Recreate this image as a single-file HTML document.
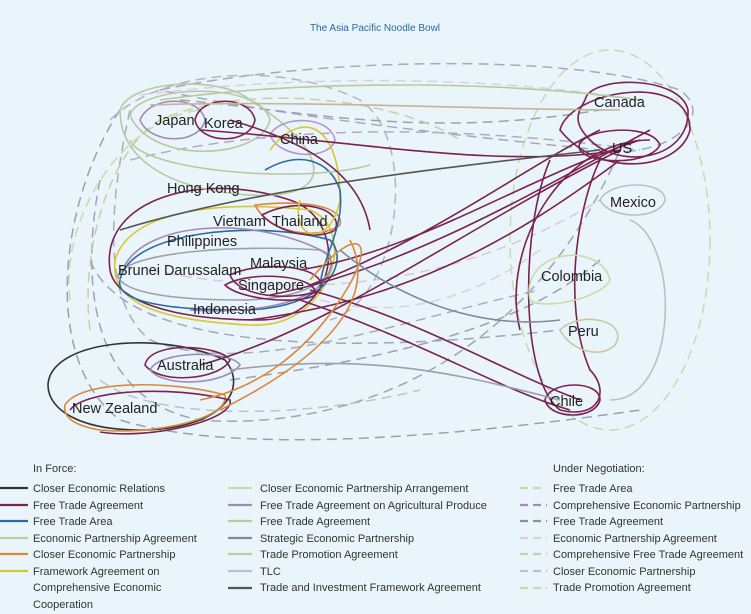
<!DOCTYPE html>
<html><head><meta charset="utf-8"><style>
body{margin:0;background:#eaf4fb;}
svg{display:block;font-family:"Liberation Sans",sans-serif;}
.lg{font-size:11px;fill:#333;}
.nd{font-size:14.5px;fill:#222;}
</style></head><body>
<svg width="751" height="614" viewBox="0 0 751 614">
<rect width="751" height="614" fill="#eaf4fb"/>
<text x="375" y="31" text-anchor="middle" font-size="10" fill="#2a6aa0">The Asia Pacific Noodle Bowl</text>
<g fill="none" stroke-width="1.6">
<g stroke-dasharray="10,6" stroke-width="1.5">
<ellipse cx="610" cy="240" rx="100" ry="190" stroke="#c8dba8"/>
<path d="M120 110 C60 200,40 360,120 420 C250 460,500 430,640 410" stroke="#9aa0b0"/>
<path d="M160 90 C300 60,560 50,680 90 C720 120,660 160,600 150 C400 130,250 110,160 90" stroke="#a8a8b8"/>
<path d="M100 180 C80 280,90 400,200 420 C330 430,520 380,620 150" stroke="#9fa4b3"/>
<path d="M140 95 C260 80,450 70,640 100" stroke="#e0cde0"/>
<path d="M130 160 C250 130,420 120,640 150" stroke="#b4a8c6"/>
<path d="M90 260 C120 340,300 360,560 330" stroke="#a0a6b4"/>
<path d="M150 270 C300 300,450 290,600 200" stroke="#d9c6df"/>
<path d="M110 120 C160 70,280 60,360 100 C420 140,400 300,330 320" stroke="#b0b6c2"/>
<path d="M70 300 C60 220,120 120,200 110" stroke="#c8dba8"/>
<path d="M230 380 C380 360,520 330,600 260" stroke="#9aa0b0"/>
<path d="M130 110 C110 200,100 300,150 340 C250 380,400 320,540 290" stroke="#a8aebb"/>
<path d="M180 100 C300 110,420 140,600 110" stroke="#9aa0b0"/>
<path d="M90 330 C80 250,110 150,160 120 C250 80,400 100,460 140" stroke="#c8d0a0"/>
<path d="M320 300 C400 320,470 300,540 250" stroke="#e0cde0"/>
<path d="M100 380 C150 420,300 420,420 390" stroke="#b8c4cc"/>
</g>
<path d="M110 270 C100 200,200 170,290 200 C350 220,340 320,260 320 C170 320,115 300,110 270Z" stroke="#7a2250"/>
<path d="M115 260 C130 210,220 200,310 210 C360 230,330 330,250 325 C150 320,110 300,115 260Z" stroke="#d6c830"/>
<path d="M120 280 C130 230,260 220,330 240 C350 260,330 310,240 310 C160 310,115 300,120 280Z" stroke="#2a6aa0"/>
<path d="M118 275 C130 250,250 245,320 250 C350 265,320 300,240 300 C160 300,120 290,118 275Z" stroke="#9aa0b0"/>
<path d="M125 265 C150 220,260 215,330 255 C340 300,260 315,190 310" stroke="#9e8ab0"/>
<path d="M230 275 C260 260,330 265,320 290 C300 300,240 300,230 275Z" stroke="#7a2250"/>
<path d="M225 285 C250 270,320 275,315 295 C300 305,240 300,225 285Z" stroke="#7a2250"/>
<path d="M255 205 C300 200,345 205,340 225 C320 240,270 235,255 205Z" stroke="#d88a3a"/>
<path d="M262 215 C300 195,345 210,335 230 C320 240,280 235,262 215Z" stroke="#7a2250"/>
<path d="M140 120 C150 95,200 95,205 120 C200 145,150 145,140 120Z" stroke="#9e8ab0"/>
<path d="M195 120 C200 95,250 95,255 120 C250 145,200 145,195 120Z" stroke="#7a2250"/>
<path d="M130 115 C140 85,260 80,270 120 C260 160,150 165,130 115Z" stroke="#b8c8a0"/>
<path d="M120 110 C130 80,220 75,250 100 C330 150,340 200,250 195 C170 190,120 160,120 110Z" stroke="#b8c8a0"/>
<path d="M270 135 C280 115,330 115,335 140 C330 160,280 160,270 135Z" stroke="#b396c8"/>
<path d="M270 150 C300 110,340 120,340 200 C330 250,290 240,300 200" stroke="#d6c830"/>
<path d="M265 170 C300 150,330 160,340 190 C345 230,320 260,320 290" stroke="#2a6aa0"/>
<path d="M48 385 C50 340,160 330,225 360 C250 390,220 430,140 430 C80 430,48 410,48 385Z" stroke="#333"/>
<path d="M65 405 C80 380,170 380,225 395 C230 420,150 435,100 430 C70 425,63 415,65 405Z" stroke="#d88a3a"/>
<path d="M70 410 C85 390,170 385,230 400 C235 420,150 440,100 432" stroke="#7a2250"/>
<path d="M145 365 C150 340,220 345,230 360 C220 380,160 385,145 365Z" stroke="#7a2250"/>
<path d="M150 370 C160 350,230 350,240 365 C225 385,165 388,150 370Z" stroke="#9e8ab0"/>
<path d="M600 200 C610 180,665 180,665 200 C660 220,610 220,600 200Z" stroke="#b8c0c8"/>
<path d="M585 100 C590 75,680 75,688 110 C690 160,620 170,590 140 C570 120,580 110,585 100Z" stroke="#7a2250"/>
<path d="M560 130 C570 90,690 70,690 130 C680 170,600 180,560 130Z" stroke="#7a2250"/>
<path d="M580 150 C570 130,650 120,660 145 C650 165,590 165,580 150Z" stroke="#7a2250"/>
<path d="M550 160 C520 230,520 380,560 410 C600 420,610 390,590 370 C560 300,580 200,600 160" stroke="#7a2250"/>
<path d="M520 330 C500 250,560 140,650 140" stroke="#7a2250"/>
<path d="M530 300 C520 250,600 240,610 280 C600 300,540 310,530 300" stroke="#c8dba8"/>
<path d="M560 330 C580 310,630 320,615 345 C600 360,570 350,560 330" stroke="#c8c8a0"/>
<path d="M545 400 C550 380,600 380,600 400 C595 420,550 420,545 400Z" stroke="#7a2250"/>
<path d="M630 220 C680 240,680 400,610 400" stroke="#b8c0c8"/>
<path d="M200 130 C350 140,500 170,620 150" stroke="#7a2250"/>
<path d="M300 270 C420 250,520 180,640 140" stroke="#7a2250"/>
<path d="M310 285 C430 240,520 170,600 130" stroke="#7a2250"/>
<path d="M250 320 C400 300,500 250,620 160" stroke="#7a2250"/>
<path d="M200 365 C330 330,460 230,620 150" stroke="#7a2250"/>
<path d="M270 295 C400 270,520 200,650 130" stroke="#7a2250"/>
<path d="M160 100 C300 80,500 80,640 100" stroke="#b8c8a0"/>
<path d="M150 105 C300 100,500 110,620 110" stroke="#c4b49a"/>
<path d="M120 230 C250 190,420 170,600 150" stroke="#555"/>
<path d="M310 290 C420 320,500 370,580 400" stroke="#7a2250"/>
<path d="M300 300 C420 340,500 390,570 410" stroke="#7a2250"/>
<path d="M230 370 C380 350,480 380,560 400" stroke="#9aa0b0"/>
<path d="M130 140 C140 170,300 185,370 165" stroke="#b8c8a0"/>
<path d="M310 280 C360 220,380 240,340 300 C300 360,250 390,200 400" stroke="#d88a3a"/>
<path d="M350 240 C370 280,360 340,220 410" stroke="#d88a3a"/>
<path d="M340 250 C400 300,480 330,560 320" stroke="#7a8c9c"/>
<path d="M230 120 C300 140,360 170,370 230" stroke="#7a2250"/>
</g>
<g class="nd">
<text x="155" y="125">Japan</text><text x="204" y="128">Korea</text><text x="280" y="144">China</text>
<text x="594" y="107">Canada</text><text x="612" y="153">US</text><text x="610" y="207">Mexico</text>
<text x="167" y="193">Hong Kong</text><text x="213" y="226">Vietnam</text><text x="272" y="226">Thailand</text>
<text x="167" y="246">Philippines</text><text x="118" y="275">Brunei Darussalam</text><text x="250" y="268">Malaysia</text>
<text x="238" y="290">Singapore</text><text x="193" y="314">Indonesia</text><text x="541" y="281">Colombia</text>
<text x="568" y="336">Peru</text><text x="550" y="406">Chile</text><text x="157" y="370">Australia</text><text x="72" y="413">New Zealand</text>
</g>
<g class="lg">
<text x="33" y="472">In Force:</text><text x="553" y="472">Under Negotiation:</text>
<text x="33" y="492">Closer Economic Relations</text><text x="33" y="509">Free Trade Agreement</text><text x="33" y="525">Free Trade Area</text><text x="33" y="542">Economic Partnership Agreement</text><text x="33" y="558">Closer Economic Partnership</text><text x="33" y="575">Framework Agreement on</text><text x="33" y="591">Comprehensive Economic</text><text x="33" y="608">Cooperation</text>
<text x="260" y="492">Closer Economic Partnership Arrangement</text><text x="260" y="509">Free Trade Agreement on Agricultural Produce</text><text x="260" y="525">Free Trade Agreement</text><text x="260" y="542">Strategic Economic Partnership</text><text x="260" y="558">Trade Promotion Agreement</text><text x="260" y="575">TLC</text><text x="260" y="591">Trade and Investment Framework Agreement</text>
<text x="553" y="492">Free Trade Area</text><text x="553" y="509">Comprehensive Economic Partnership</text><text x="553" y="525">Free Trade Agreement</text><text x="553" y="542">Economic Partnership Agreement</text><text x="553" y="558">Comprehensive Free Trade Agreement</text><text x="553" y="575">Closer Economic Partnership</text><text x="553" y="591">Trade Promotion Agreement</text>
</g>
<g stroke-width="2.2">
<line x1="0" y1="488" x2="28" y2="488" stroke="#333"/><line x1="0" y1="505" x2="28" y2="505" stroke="#7a2250"/><line x1="0" y1="521" x2="28" y2="521" stroke="#2a6aa0"/><line x1="0" y1="538" x2="28" y2="538" stroke="#b8d098"/><line x1="0" y1="554" x2="28" y2="554" stroke="#d88a3a"/><line x1="0" y1="571" x2="28" y2="571" stroke="#d6c830"/>
<line x1="228" y1="488" x2="252" y2="488" stroke="#c8dba8"/><line x1="228" y1="505" x2="252" y2="505" stroke="#9e8ab0"/><line x1="228" y1="521" x2="252" y2="521" stroke="#b8c8a0"/><line x1="228" y1="538" x2="252" y2="538" stroke="#7a8c9c"/><line x1="228" y1="554" x2="252" y2="554" stroke="#c8c8a0"/><line x1="228" y1="571" x2="252" y2="571" stroke="#b8c0c8"/><line x1="228" y1="588" x2="252" y2="588" stroke="#555"/>
<g stroke-dasharray="8,5"><line x1="520" y1="488" x2="547" y2="488" stroke="#c8dba8"/><line x1="520" y1="505" x2="547" y2="505" stroke="#a888b8"/><line x1="520" y1="521" x2="547" y2="521" stroke="#8a909c"/><line x1="520" y1="538" x2="547" y2="538" stroke="#e0cde0"/><line x1="520" y1="554" x2="547" y2="554" stroke="#c8d0a0"/><line x1="520" y1="571" x2="547" y2="571" stroke="#b8c4cc"/><line x1="520" y1="588" x2="547" y2="588" stroke="#c8dba8"/></g>
</g>
</svg>
</body></html>
